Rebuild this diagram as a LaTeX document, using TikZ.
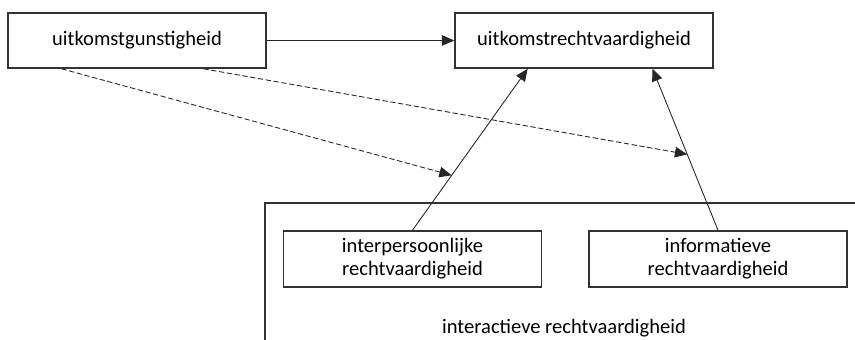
\documentclass[tikz,border=0pt]{standalone}
\usepackage{fontspec}
\setmainfont{Carlito}
\usetikzlibrary{arrows.meta,calc}
\begin{document}
\begin{tikzpicture}[x=0.02cm,y=-0.02cm,
	font=\fontsize{11.7}{13.1}\selectfont,
	box/.style={draw=black!80, line width=0.9pt, minimum width=5.16cm, align=center, inner sep=0pt},
	pijl/.style={draw=black!85, line width=0.5pt, -{Triangle[length=7pt,width=6pt]}},
	stippel/.style={pijl, dashed, dash pattern=on 3pt off 1.5pt}]
\useasboundingbox (0,0) rectangle (855,340);
\def\groot{(265,340) |- (856,203)}
\draw[black!80, line width=0.9pt] \groot;
\node (inter) at (564,328) {interactieve rechtvaardigheid};
\node[box, minimum height=1.1cm] (gunst) at (137,40.5) {uitkomstgunstigheid};
\node[box, minimum height=1.1cm] (recht) at (584,40.5) {uitkomstrechtvaardigheid};
\node[box, minimum height=1.12cm] (pers) at (412.5,259) {interpersoonlijke\\rechtvaardigheid};
\node[box, minimum height=1.12cm] (info) at (718,259) {informatieve\\rechtvaardigheid};
\coordinate (b1) at ($(recht.south west)!0.283!(recht.south east)$);
\coordinate (b2) at ($(recht.south west)!0.764!(recht.south east)$);
\coordinate (m1) at ($(pers.north)!0.34!(b1)$);
\coordinate (m2) at ($(info.north)!0.47!(b2)$);
\draw[pijl] (gunst) -- (recht);
\draw[pijl] (pers.north) -- (b1);
\draw[pijl] (info.north) -- (b2);
\draw[stippel] ($(gunst.south west)!0.209!(gunst.south east)$) -- (m1);
\draw[stippel] ($(gunst.south west)!0.756!(gunst.south east)$) -- (m2);
\end{tikzpicture}
\end{document}
